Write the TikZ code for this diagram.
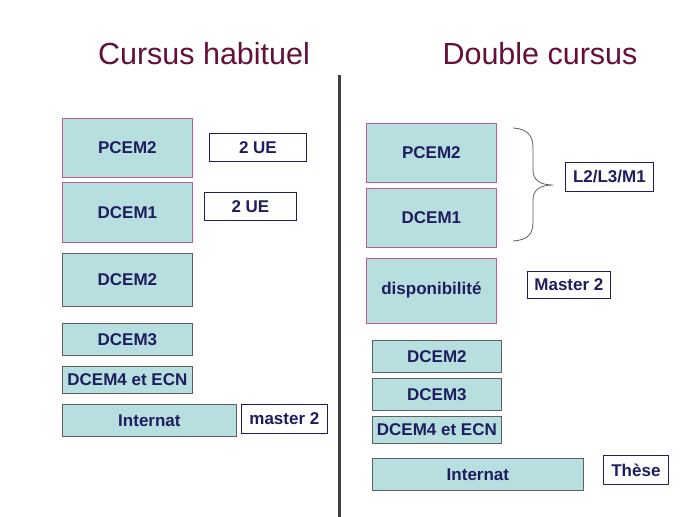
\documentclass[tikz,border=0pt]{standalone}
\usepackage{fontspec}
\setmainfont{Liberation Sans}
\usepackage{xcolor}
\usetikzlibrary{positioning}

\definecolor{boxfill}{RGB}{184,223,224}
\definecolor{pinkline}{RGB}{190,90,150}
\definecolor{greyline}{RGB}{95,95,95}
\definecolor{navy}{RGB}{30,30,95}
\definecolor{titlered}{RGB}{100,16,58}

\begin{document}
\begin{tikzpicture}[
  x=1pt, y=-1pt,
  font=\fontsize{17}{19}\selectfont\bfseries,
  year/.style={draw=greyline, fill=boxfill, text=navy, line width=0.8pt,
    minimum width=130pt, inner sep=0pt, anchor=north west},
  pinkyear/.style={year, draw=pinkline},
  extra/.style={draw=navy, fill=white, text=navy, line width=0.8pt,
    inner sep=0pt, minimum height=28pt, anchor=north west},
  title/.style={font=\fontsize{30.5}{34}\selectfont, text=titlered, anchor=base}
]
  \useasboundingbox[fill=white] (0,0) rectangle (689,517);

  % titles
  \node[title] (titleleft) at (204,64) {Cursus habituel};
  \node[title] (titleright) at (540,64) {Double cursus};

  % separator
  \draw[line width=2.6pt, black!75] (339.5,75) -- (339.5,517);

  % left column
  \node[pinkyear, minimum height=59pt] (lpcem2) at (62,118) {PCEM2};
  \node[pinkyear, minimum height=60pt, below=4pt of lpcem2] (ldcem1) {DCEM1};
  \node[year, minimum height=53pt, below=10pt of ldcem1] (ldcem2) {DCEM2};
  \node[year, minimum height=32pt, below=17pt of ldcem2] (ldcem3) {DCEM3};
  \node[year, minimum height=27pt, below=10pt of ldcem3] (ldcem4) {DCEM4 et ECN};
  \node[year, minimum height=32pt, minimum width=174pt,
    below=10pt of ldcem4.south west, anchor=north west] (linternat) {Internat};

  \node[extra, minimum width=97pt] (lue1) at (209,133) {2 UE};
  \node[extra, minimum width=92pt] (lue2) at (204,192) {2 UE};
  \node[extra, minimum width=86pt, minimum height=29pt] (lmaster) at (241,404) {master 2};

  % right column
  \node[pinkyear, minimum height=59pt] (rpcem2) at (366,123) {PCEM2};
  \node[pinkyear, minimum height=59pt, below=5pt of rpcem2] (rdcem1) {DCEM1};
  \node[pinkyear, minimum height=65pt, below=10pt of rdcem1] (rdispo) {disponibilité};
  \node[year, minimum height=32pt, minimum width=129pt] (rdcem2) at (372,340) {DCEM2};
  \node[year, minimum height=32pt, minimum width=129pt, below=5pt of rdcem2] (rdcem3) {DCEM3};
  \node[year, minimum height=27pt, minimum width=129pt, below=5pt of rdcem3] (rdcem4) {DCEM4 et ECN};
  \node[year, minimum height=32pt, minimum width=211pt,
    below=15pt of rdcem4.south west, anchor=north west] (rinternat) {Internat};

  \node[extra, minimum width=88pt, minimum height=29pt] (rlicence) at (565,162) {L2/L3/M1};
  \node[extra, minimum width=83pt, minimum height=27pt] (rmaster) at (527,271) {Master 2};
  \node[extra, minimum width=65pt, minimum height=29pt] (rthese) at (603,455) {Thèse};

  % brace
  \coordinate (bracetop) at (513,128);
  \coordinate (bracetip) at (553,185);
  \coordinate (bracebot) at (513,241);
  \draw[line width=0.8pt, greyline]
    (bracetop) .. controls (528,129) and (533,136) .. (533,148)
    -- (533,170) .. controls (533,180) and (540,185) .. (bracetip)
    .. controls (540,185) and (533,190) .. (533,200)
    -- (533,222) .. controls (533,234) and (528,240) .. (bracebot);
\end{tikzpicture}
\end{document}
